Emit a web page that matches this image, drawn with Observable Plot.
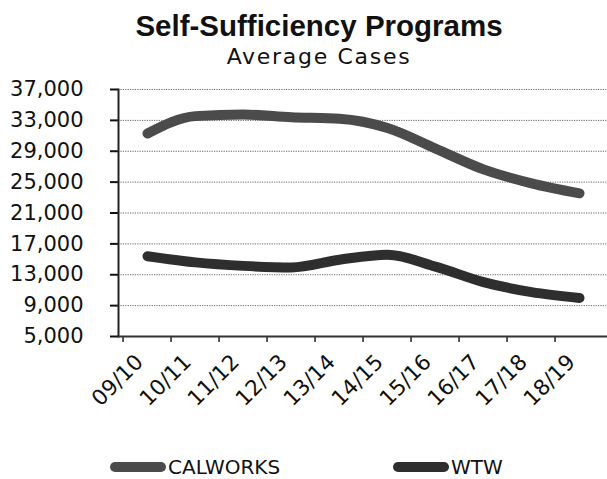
<!DOCTYPE html>
<html>
<head>
<meta charset="utf-8">
<script src="https://cdn.jsdelivr.net/npm/d3@7"></script>
<script src="https://cdn.jsdelivr.net/npm/@observablehq/plot@0.6"></script>
<style>
  html, body { margin: 0; padding: 0; background: #fff; }
  body { width: 607px; height: 479px; overflow: hidden; position: relative; font-family: "DejaVu Sans", sans-serif; color: #111; }
  #head { position: relative; height: 78px; }
  #title { position: absolute; left: 0; width: 638px; top: 10.5px; text-align: center; font-family: "Liberation Sans", Arial, sans-serif; font-weight: bold; font-size: 29.5px; line-height: 29.5px; color: #111; white-space: nowrap; }
  #subtitle { position: absolute; left: 0; width: 638px; top: 46px; text-align: center; font-family: "DejaVu Sans", sans-serif; font-size: 22px; line-height: 22px; letter-spacing: 1.7px; color: #111; white-space: nowrap; }
  #legend { position: relative; height: 49px; }
  .item { position: absolute; top: 26px; height: 22px; display: flex; align-items: center; font-size: 20px; line-height: 22px; color: #111; }
  .sw { width: 56px; height: 10px; border-radius: 5px; margin-right: 2px; }
</style>
</head>
<body>
<div id="head">
  <div id="title">Self-Sufficiency Programs</div>
  <div id="subtitle">Average Cases</div>
</div>
<div id="chart"></div>
<div id="legend"></div>
<script>
const years = ["09/10","10/11","11/12","12/13","13/14","14/15","15/16","16/17","17/18","18/19"];
const calworks = [31300, 33550, 33750, 33400, 33200, 32000, 29350, 26650, 24850, 23550];
const wtw = [15400, 14600, 14150, 13950, 14950, 15600, 14050, 12050, 10750, 10000];
const seriesNames = ["CALWORKS", "WTW"];
const seriesColors = ["#4b4b4b", "#2e2e2e"];
const yTicks = [5000, 9000, 13000, 17000, 21000, 25000, 29000, 33000, 37000];

const data = [];
years.forEach((y, i) => data.push({year: y, value: calworks[i], series: seriesNames[0]}));
years.forEach((y, i) => data.push({year: y, value: wtw[i], series: seriesNames[1]}));

const fmt = d3.format(",");
const step = (607 - 118) / years.length;

const chart = Plot.plot({
  width: 607,
  height: 352,
  marginLeft: 118,
  marginRight: 0,
  marginTop: 11,
  marginBottom: 94,
  style: { fontFamily: "DejaVu Sans, sans-serif", color: "#111", background: "transparent" },
  x: { type: "point", domain: years, padding: 0.5, label: null },
  y: { domain: [5000, 37000], ticks: yTicks, label: null },
  color: { domain: seriesNames, range: seriesColors },
  marks: [
    Plot.gridY(yTicks, { stroke: "#666", strokeOpacity: 1, strokeDasharray: "1.2,1.2", strokeWidth: 1 }),
    Plot.axisY(yTicks, { tickFormat: fmt, tickSize: 8, tickPadding: 27, fontSize: 21, stroke: "#111", strokeWidth: 2, label: null }),
    Plot.axisX({ tickSize: 0, tickRotate: -45, tickPadding: 22, dx: -8, fontSize: 21.5, label: null }),
    Plot.axisX({ tickSize: 6, text: null, dx: -step / 2, stroke: "#222", strokeWidth: 1.5, label: null }),
    Plot.frame({ anchor: "left", stroke: "#222", strokeWidth: 2 }),
    Plot.frame({ anchor: "bottom", stroke: "#333", strokeWidth: 2 }),
    Plot.line(data, { x: "year", y: "value", z: "series", stroke: "series", curve: "monotone-x", strokeWidth: 10, strokeLinecap: "round", strokeLinejoin: "round" })
  ]
});
document.getElementById("chart").appendChild(chart);

const legend = document.getElementById("legend");
const legendX = [110, 393];
seriesNames.forEach((name, i) => {
  const it = document.createElement("div");
  it.className = "item";
  it.style.left = legendX[i] + "px";
  const sw = document.createElement("div");
  sw.className = "sw";
  sw.style.background = seriesColors[i];
  const tx = document.createElement("span");
  tx.textContent = name;
  it.appendChild(sw);
  it.appendChild(tx);
  legend.appendChild(it);
});
</script>
</body>
</html>
